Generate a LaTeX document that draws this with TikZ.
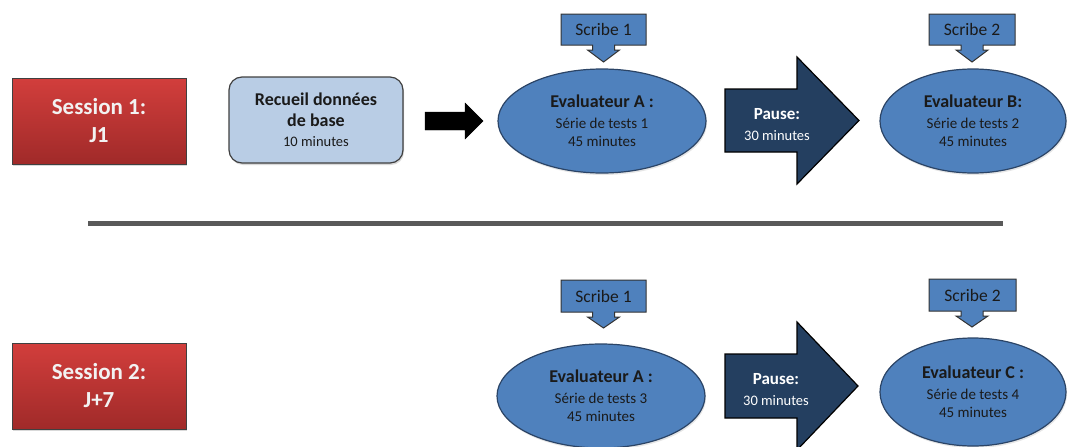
\documentclass[tikz,border=0pt]{standalone}
\usepackage{fontspec}
\setmainfont{Carlito}
\usetikzlibrary{shapes.geometric,shadows}
\definecolor{sessTop}{HTML}{D23E3C}
\definecolor{sessBot}{HTML}{A02A29}
\definecolor{recFill}{HTML}{B9CDE5}
\definecolor{evalFill}{HTML}{4F81BD}
\definecolor{evalLine}{HTML}{2B4466}
\definecolor{pauseFill}{HTML}{243F60}
\definecolor{sepLine}{HTML}{595959}
\definecolor{txtDark}{HTML}{1A1A1A}
\begin{document}
\begin{tikzpicture}[x=1pt,y=-1pt,
  softshadow/.style={drop shadow={shadow xshift=1pt, shadow yshift=-2pt, opacity=0.3}},
  sessbox/.style={rectangle, draw=black!75, line width=0.8pt, top color=sessTop, bottom color=sessBot,
    minimum width=174pt, minimum height=86pt, text=white!95!black, align=center,
    font=\fontsize{23}{28}\selectfont\bfseries, softshadow},
  recbox/.style={rectangle, rounded corners=13pt, draw=black!75, line width=1.2pt, fill=recFill,
    minimum width=174pt, minimum height=86pt, text=txtDark, align=center,
    font=\fontsize{18}{21}\selectfont\bfseries, softshadow},
  evalnode/.style={ellipse, draw=evalLine, line width=1.2pt, fill=evalFill, inner sep=0pt,
    minimum height=104pt, text=txtDark, align=center, font=\fontsize{15}{18}\selectfont,
    drop shadow={shadow xshift=1pt, shadow yshift=-2pt, opacity=0.2}},
  callout/.style={draw=black!80, line width=1pt, fill=evalFill},
  scribetext/.style={text=txtDark, font=\fontsize{17.5}{20}\selectfont, inner sep=0pt},
  pausearrow/.style={draw=black, line width=1.2pt, fill=pauseFill},
  pausetext/.style={text=white, align=center, font=\fontsize{14.5}{21}\selectfont, inner sep=0pt},
  blackarrow/.style={fill=black},
  sep/.style={draw=sepLine, line width=5pt}
]
\useasboundingbox (0,0) rectangle (1068,447);
\clip (0,0) rectangle (1068,447);

% ---------- Session 1 ----------
\node[sessbox] (sess1) at (99,121) {Session 1:\\J1};

\node[recbox] (rec) at (316,120) {Recueil données\\de base\\[-1pt]{\fontsize{14.5}{17}\selectfont\mdseries 10 minutes}};

\draw[blackarrow] (425,112) -- (465,112) -- (465,103) -- (483,121) -- (465,139) -- (465,130) -- (425,130) -- cycle;

\node[evalnode, minimum width=208pt] (evalA1) at (602,121)
  {{\fontsize{18}{18}\selectfont\bfseries Evaluateur A :}\\[3pt]Série de tests 1\\45 minutes};

\draw[callout] (561,14) -- (646,14) -- (646,45) -- (614.5,45) -- (614.5,50) -- (619.5,50) -- (603.5,62)
  -- (587.5,50) -- (592.5,50) -- (592.5,45) -- (561,45) -- cycle;
\node[scribetext] (scribe1a) at (603.5,29.5) {Scribe 1};

\draw[pausearrow] (725,89) -- (797,89) -- (797,57) -- (859,120.5) -- (797,184) -- (797,152) -- (725,152) -- cycle;
\node[pausetext] (pause1) at (777,124.5) {{\fontsize{17}{17}\selectfont\bfseries Pause:}\\30 minutes};

\node[evalnode, minimum width=186pt] (evalB) at (973,121)
  {{\fontsize{18}{18}\selectfont\bfseries Evaluateur B:}\\[3pt]Série de tests 2\\45 minutes};

\draw[callout] (929,14) -- (1015,14) -- (1015,45) -- (983,45) -- (983,50) -- (988,50) -- (972,62)
  -- (956,50) -- (961,50) -- (961,45) -- (929,45) -- cycle;
\node[scribetext] (scribe2a) at (972,29.5) {Scribe 2};

% ---------- separator ----------
\coordinate (sepL) at (88,223);
\coordinate (sepR) at (1003,223);
\draw[sep] (sepL) -- (sepR);

% ---------- Session 2 ----------
\node[sessbox] (sess2) at (99,386) {Session 2:\\J+7};

\draw[callout] (561,280) -- (646,280) -- (646,312) -- (614.5,312) -- (614.5,317) -- (619.5,317) -- (603.5,328)
  -- (587.5,317) -- (592.5,317) -- (592.5,312) -- (561,312) -- cycle;
\node[scribetext] (scribe1b) at (603.5,296) {Scribe 1};

\node[evalnode, minimum width=208pt] (evalA2) at (601,396)
  {{\fontsize{18}{18}\selectfont\bfseries Evaluateur A :}\\[3pt]Série de tests 3\\45 minutes};

\draw[pausearrow] (725,354) -- (797,354) -- (797,322) -- (858,386) -- (797,450) -- (797,418) -- (725,418) -- cycle;
\node[pausetext] (pause2) at (776,389.5) {{\fontsize{17}{17}\selectfont\bfseries Pause:}\\30 minutes};

\draw[callout] (929,279) -- (1016,279) -- (1016,311) -- (983,311) -- (983,316) -- (988,316) -- (972,327)
  -- (956,316) -- (961,316) -- (961,311) -- (929,311) -- cycle;
\node[scribetext] (scribe2b) at (972.5,295) {Scribe 2};

\node[evalnode, minimum width=186pt, minimum height=108pt] (evalC) at (973,392)
  {{\fontsize{18}{18}\selectfont\bfseries Evaluateur C :}\\[3pt]Série de tests 4\\45 minutes};
\end{tikzpicture}
\end{document}
